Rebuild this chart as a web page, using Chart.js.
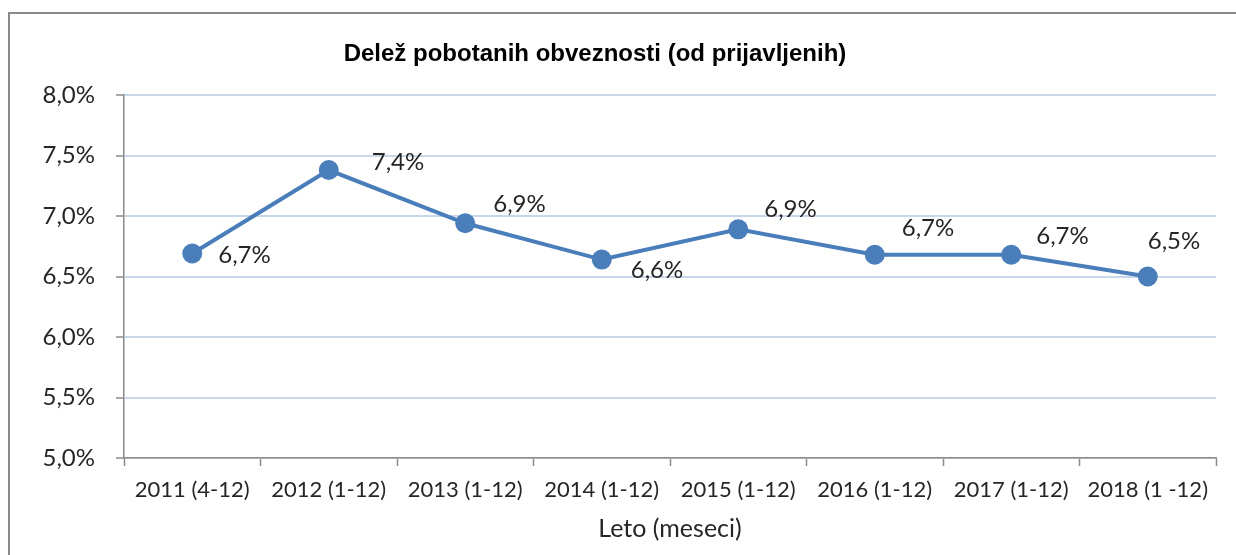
<!DOCTYPE html>
<html>
<head>
<meta charset="utf-8">
<script src="https://cdn.jsdelivr.net/npm/chart.js@4"></script>
<style>
  html, body { margin: 0; padding: 0; background: #fff; overflow: hidden; width: 1236px; height: 555px; }
  #frame { position: absolute; left: 8px; top: 12px; width: 1240px; height: 541px; border: 2px solid #8a8a8a; }
  #c { display: block; }
</style>
</head>
<body>
<div id="frame"><canvas id="c" width="1240" height="541"></canvas></div>
<script>
const categories = ["2011 (4-12)", "2012 (1-12)", "2013 (1-12)", "2014 (1-12)", "2015 (1-12)", "2016 (1-12)", "2017 (1-12)", "2018 (1 -12)"];
const shareValues = [6.69, 7.38, 6.94, 6.64, 6.89, 6.68, 6.68, 6.50];
const yTickMin = 5.0;
const yTickMax = 8.0;
const yTickStep = 0.5;
const chartTitle = "Delež pobotanih obveznosti (od prijavljenih)";
const xAxisTitle = "Leto (meseci)";

// label placement (dx, dy) relative to each point, left-aligned text
const labelOffsets = [[26, 2], [43, -8], [28, -19], [29, 11], [26, -20], [27, -26], [25, -18], [0, -35]];

const fmt = v => v.toFixed(1).replace('.', ',') + '%';

const dataLabels = {
  id: 'dataLabels',
  afterDatasetsDraw(chart) {
    const ctx = chart.ctx;
    const meta = chart.getDatasetMeta(0);
    ctx.save();
    ctx.font = '24px Lato';
    ctx.fillStyle = '#262626';
    ctx.textAlign = 'left';
    ctx.textBaseline = 'middle';
    meta.data.forEach((pt, i) => {
      const o = labelOffsets[i];
      ctx.fillText(fmt(shareValues[i]), pt.x + o[0], pt.y + o[1]);
    });
    ctx.restore();
  }
};

const titleDraw = {
  id: 'titleDraw',
  afterDraw(chart) {
    const ctx = chart.ctx;
    ctx.save();
    ctx.font = 'bold 24px "Liberation Sans"';
    ctx.fillStyle = '#000';
    ctx.textAlign = 'center';
    ctx.textBaseline = 'alphabetic';
    ctx.fillText(chartTitle, 585, 47);
    ctx.restore();
  }
};

new Chart(document.getElementById('c'), {
  type: 'line',
  data: {
    labels: categories,
    datasets: [{
      data: shareValues,
      borderColor: '#4a7ebb',
      backgroundColor: '#4a7ebb',
      borderWidth: 4,
      pointRadius: 10,
      pointBorderWidth: 0,
      pointBackgroundColor: '#4a7ebb',
      tension: 0,
      fill: false
    }]
  },
  options: {
    responsive: false,
    animation: false,
    layout: { padding: { left: 0, right: 34, top: 81, bottom: 0 } },
    plugins: {
      legend: { display: false },
      tooltip: { enabled: false },
      title: { display: false }
    },
    scales: {
      x: {
        offset: true,
        grid: { display: true, offset: true, drawOnChartArea: false, drawTicks: true, tickLength: 8, tickColor: '#8a8a8a', tickWidth: 1.5 },
        border: { display: true, color: '#8a8a8a', width: 1.5 },
        ticks: { color: '#262626', font: { family: 'Lato', size: 22 }, padding: 11, maxRotation: 0, autoSkip: false },
        title: { display: true, text: xAxisTitle, color: '#262626', font: { family: 'Lato', size: 25, lineHeight: 1.2 }, padding: { top: 0, bottom: 11 } },
        afterFit(scale) { scale.height = 97; }
      },
      y: {
        min: yTickMin,
        max: yTickMax,
        grid: { color: '#c9d7eb', lineWidth: 2, drawTicks: true, tickLength: 8, tickColor: '#8a8a8a', tickWidth: 1.5 },
        border: { display: true, color: '#8a8a8a', width: 1.5 },
        ticks: { stepSize: yTickStep, color: '#262626', font: { family: 'Lato', size: 24 }, padding: 21, callback: v => fmt(v) },
        afterFit(scale) { scale.width = 114; }
      }
    }
  },
  plugins: [dataLabels, titleDraw]
});
</script>
</body>
</html>
